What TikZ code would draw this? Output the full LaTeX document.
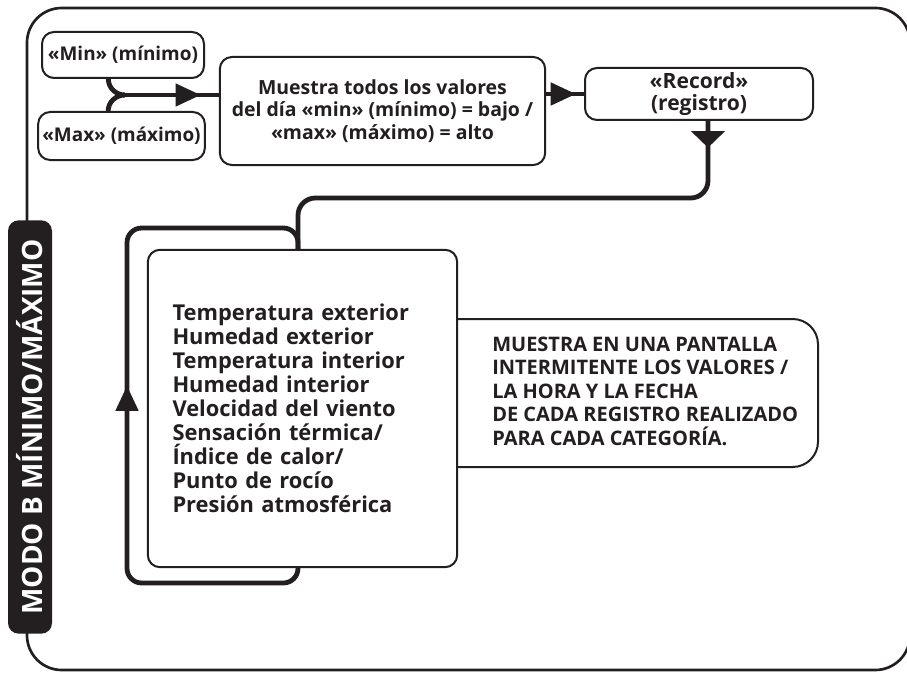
\documentclass[tikz,border=0pt]{standalone}
\usepackage{fontspec}
\setmainfont{Open Sans}
\usetikzlibrary{arrows.meta,positioning,calc,decorations.markings}
\definecolor{ink}{HTML}{231F20}

\begin{document}
\begin{tikzpicture}[
  x=0.75pt, y=-0.75pt,
  box/.style={draw=ink, line width=1.5pt, rounded corners=9pt, align=center, text=ink, inner sep=0pt, fill=white, font=\fontsize{14.4}{17}\selectfont\bfseries},
  listtxt/.style={align=left, text=ink, inner sep=0pt, font=\fontsize{15}{17.6}\selectfont\bfseries},
  conn/.style={draw=ink, color=ink, line width=3.6pt},
  midarr/.style={postaction={decorate}, decoration={markings, mark=at position #1 with {\arrow{Triangle[length=19pt,width=16.5pt]}}}},
  flatarr/.style={postaction={decorate}, decoration={markings, mark=at position #1 with {\arrow{Triangle[length=12.5pt,width=25pt]}}}},
  frame/.style={draw=ink, line width=2pt, rounded corners=26pt}
]
  \useasboundingbox (0,0) rectangle (907,674);

  % outer frame and side label
  \draw[frame] (27,8) rectangle (910,670);
  \node[fill=ink, rounded corners=8pt, rotate=90, minimum width=310pt, minimum height=33pt, inner sep=0pt, text=white, font=\fontsize{21}{24}\selectfont\bfseries] (Modo) at (30,427) {MODO B MÍNIMO/MÁXIMO};

  % top row
  \node[box, minimum width=121.5pt, minimum height=34.5pt, font=\fontsize{14.2}{17}\selectfont\bfseries] (Min) at (123,55) {«Min» (mínimo)};
  \node[box, minimum width=125pt, minimum height=36pt, font=\fontsize{14.2}{17}\selectfont\bfseries] (Max) at (121.5,136) {«Max» (máximo)};
  \node[box, minimum width=244pt, minimum height=81pt, font=\fontsize{14.6}{17}\selectfont\bfseries] (Muestra) at (382.5,111) {Muestra todos los valores\\del día «min» (mínimo) = bajo /\\«max» (máximo) = alto};
  \node[box, minimum width=171pt, minimum height=39pt, font=\fontsize{15.8}{16.5}\selectfont\bfseries] (Record) at (699,94) {«Record»\\(registro)};

  % list box and display box
  \draw[box, rounded corners=19pt] (440,319) -- (818,319) -- (818,467) -- (440,467);
  \node[box, minimum width=232pt, minimum height=238pt, text width=195pt, align=left, font=\fontsize{16.4}{18}\selectfont\bfseries] (Lista) at (302.5,408.5) {Temperatura exterior\\Humedad exterior\\Temperatura interior\\Humedad interior\\Velocidad del viento\\Sensación térmica/\\Índice de calor/\\Punto de rocío\\Presión atmosférica};
  \node[listtxt, anchor=west] (Pantalla) at (492,391) {MUESTRA EN UNA PANTALLA\\INTERMITENTE LOS VALORES /\\LA HORA Y LA FECHA\\DE CADA REGISTRO REALIZADO\\PARA CADA CATEGORÍA.};

  % helper points
  \coordinate (mrg) at (125,95);
  \coordinate (bend) at (298,198);
  \coordinate (lpBL) at (127,583);
  \coordinate (lpTL) at (127,228);

  % connectors
  \draw[conn] ([xshift=-11pt]Min.south) to[out=-90, in=180] (mrg);
  \draw[conn] ([xshift=-10pt]Max.north) to[out=90, in=180] (mrg);
  \draw[conn, midarr=-13.5pt] (mrg) -- (Muestra.west |- mrg);
  \draw[conn, midarr=-6pt] (Muestra.east |- Record.west) -- (Record.west);
  \draw[conn, rounded corners=13pt, flatarr=20pt] ([xshift=6.75pt]Record.south) |- (bend) -- (Lista.north -| bend);
  \draw[conn, rounded corners=11pt, midarr=278pt] (Lista.south -| bend) |- (lpBL) -- (lpTL) -| (Lista.north -| bend);
\end{tikzpicture}
\end{document}
